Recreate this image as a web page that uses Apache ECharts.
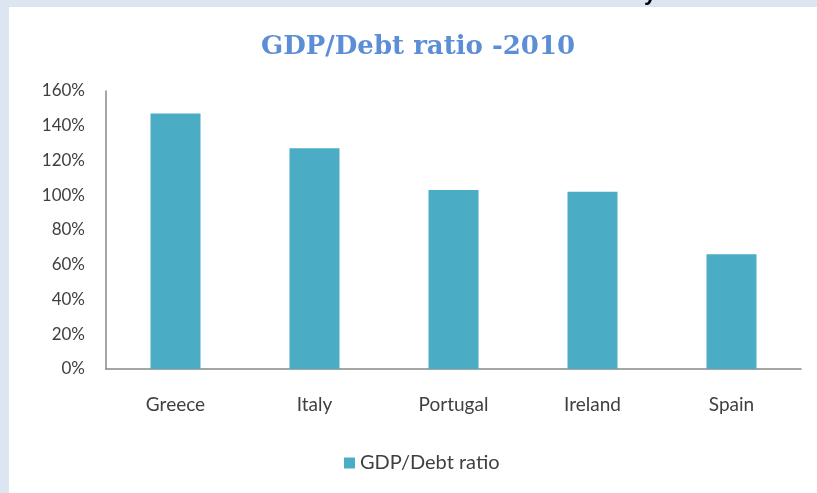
<!DOCTYPE html>
<html>
<head>
<meta charset="utf-8">
<style>html,body{margin:0;padding:0;background:#dce6f2;}#c{width:817px;height:493px;}</style>
<script src="https://cdn.jsdelivr.net/npm/echarts@6/dist/echarts.min.js"></script>
</head>
<body>
<div id="c"></div>
<script>
var categories = ['Greece', 'Italy', 'Portugal', 'Ireland', 'Spain'];
var ratioValues = [147, 127, 103, 102, 66];
var seriesName = 'GDP/Debt ratio';
var titleText = 'GDP/Debt ratio -2010';

var chart = echarts.init(document.getElementById('c'), null, {renderer: 'canvas'});
chart.setOption({
  backgroundColor: '#dce6f2',
  animation: false,
  graphic: [
    {type: 'rect', z: -100, shape: {x: 9, y: 7, width: 820, height: 500}, style: {fill: '#ffffff'}},
    {type: 'text', z: -50, left: 644, top: -17, style: {text: 'y', fill: '#000', font: 'bold 22px "Liberation Sans"'}}
  ],
  title: {
    text: titleText,
    left: 256,
    top: 29,
    textStyle: {fontFamily: '"DejaVu Serif", serif', fontWeight: 'bold', fontSize: 26, color: '#5b8ed6'}
  },
  legend: {
    data: [seriesName],
    bottom: 15,
    left: 339,
    itemWidth: 11,
    itemHeight: 11,
    itemGap: 6,
    icon: 'rect',
    textStyle: {fontFamily: 'Lato, sans-serif', fontSize: 20, color: '#404040'}
  },
  grid: {left: 106, right: 16, top: 91, bottom: 124, containLabel: false},
  xAxis: {
    type: 'category',
    data: categories,
    axisLine: {lineStyle: {color: '#888888', width: 1.5}},
    axisTick: {show: false},
    axisLabel: {margin: 26, fontFamily: 'Lato, sans-serif', fontSize: 19, color: '#404040'}
  },
  yAxis: {
    type: 'value',
    min: 0, max: 160, interval: 20,
    axisLine: {show: true, lineStyle: {color: '#888888', width: 1.5}},
    axisTick: {show: false},
    splitLine: {show: false},
    axisLabel: {formatter: '{value}%', margin: 21, fontFamily: 'Lato, sans-serif', fontSize: 17, color: '#404040'}
  },
  series: [{
    name: seriesName,
    type: 'bar',
    data: ratioValues,
    barWidth: 50,
    itemStyle: {color: '#4bacc6'}
  }]
});
</script>
</body>
</html>
